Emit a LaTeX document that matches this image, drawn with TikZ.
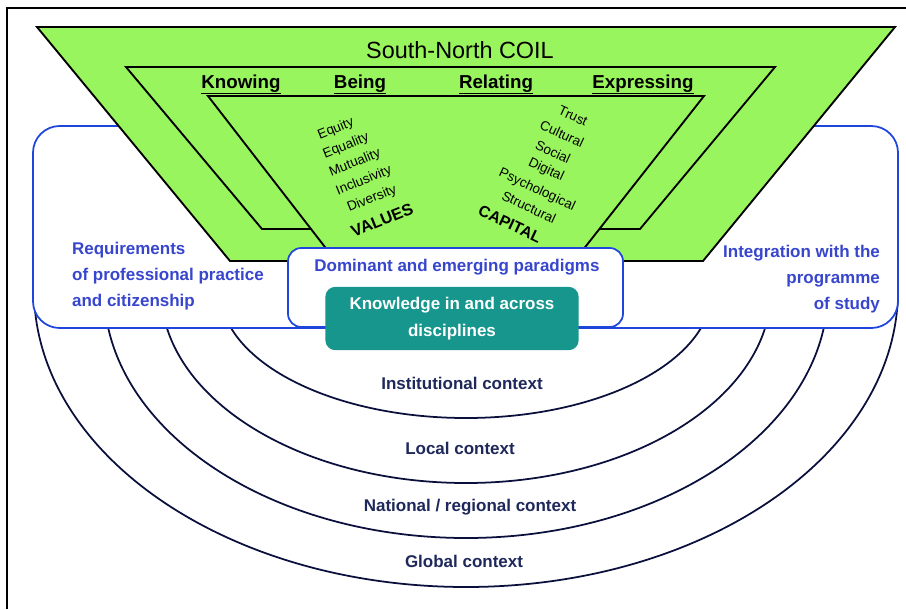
\documentclass[tikz,border=0pt]{standalone}
\usepackage{fontspec}
\setmainfont{Liberation Sans}
\definecolor{coilGreen}{RGB}{153,245,94}
\definecolor{frameBlue}{RGB}{30,70,220}
\definecolor{textBlue}{RGB}{55,70,205}
\definecolor{contextNavy}{RGB}{30,40,90}
\definecolor{arcNavy}{RGB}{10,15,60}
\definecolor{knowTeal}{RGB}{22,150,140}

\begin{document}
\begin{tikzpicture}[x=0.3mm,y=-0.3mm,%%
  trapStyle/.style={draw=black,line width=1.6pt,line join=miter},%%
  boxStyle/.style={draw=frameBlue,fill=white,line width=1.5pt},%%
  arcStyle/.style={draw=arcNavy,line width=1.5pt},%%
  sideLabel/.style={text=textBlue,font=\fontsize{14.5}{22}\selectfont\bfseries},%%
  contextLabel/.style={text=contextNavy,font=\fontsize{14.5}{17}\selectfont\bfseries},%%
  headLabel/.style={anchor=base,font=\fontsize{16}{19}\selectfont\bfseries},%%
  valueLabel/.style={inner sep=0pt,font=\fontsize{11.5}{13}\selectfont,rotate=22},%%
  capitalLabel/.style={inner sep=0pt,font=\fontsize{11.5}{13}\selectfont,rotate=-25},%%
  knowBox/.style={fill=knowTeal,rounded corners=3mm,text=white,align=center,%%
    minimum width=76mm,minimum height=19mm,%%
    font=\fontsize{14.5}{23}\selectfont\bfseries}%%
]
%%
\useasboundingbox (0,0) rectangle (906,609);
%%
\pgfmathsetmacro{\cx}{466}
\pgfmathsetmacro{\cy}{290}
%%
%% Page frame.
\draw[line width=1.2pt] (7,609) -- (7,8) -- (906,8);
%% Context arcs, innermost first.
\foreach \rx/\ry in {246/128,305/193,362/248,432/297}{
  \draw[arcStyle] (\cx-\rx,\cy) arc[start angle=180,end angle=0,x radius=\rx,y radius=\ry];
}
%% Outer blue box.
\draw[boxStyle,rounded corners=8mm] (33,126) rectangle (898,328);
%% The three green trapezoids.
\draw[trapStyle,fill=coilGreen] (37,27) -- (895,27) -- (703,261) -- (230,261) -- cycle;
\draw[trapStyle] (126,67) -- (775,67) -- (640,229) -- (262,229) -- cycle;
\draw[trapStyle,fill=coilGreen] (208,96) -- (704,96) -- (575,260) -- (335,260) -- cycle;
%% Paradigms box and knowledge box.
\draw[boxStyle,rounded corners=4mm] (288,248) rectangle (623,327);
\node[knowBox] (knowledge) at (452,318.5) {Knowledge in and across\\disciplines};
\node[text=textBlue,font=\fontsize{14.5}{17}\selectfont\bfseries] (paradigms) at (457,267) {Dominant and emerging paradigms};
%%
%% Headings.
\node[anchor=base,font=\fontsize{20}{24}\selectfont] (coil) at (460,58) {South-North COIL};
\node[headLabel] (knowing) at (241,88) {\underline{Knowing}};
\node[headLabel] (being) at (360,88) {\underline{Being}};
\node[headLabel] (relating) at (496,88) {\underline{Relating}};
\node[headLabel] (expressing) at (643,88) {\underline{Expressing}};
%%
%% Values column.
\node[valueLabel] (equity) at (336,129) {Equity};
\node[valueLabel] (equality) at (346,146) {Equality};
\node[valueLabel] (mutuality) at (355,163) {Mutuality};
\node[valueLabel] (inclusivity) at (364,181) {Inclusivity};
\node[valueLabel] (diversity) at (372,199) {Diversity};
\node[valueLabel,font=\fontsize{14}{16}\selectfont\bfseries] (values) at (382,220) {VALUES};
%% Capital column.
\node[capitalLabel] (trust) at (573,116) {Trust};
\node[capitalLabel] (cultural) at (562,134) {Cultural};
\node[capitalLabel] (social) at (553,152) {Social};
\node[capitalLabel] (digital) at (546,170) {Digital};
\node[capitalLabel] (psychological) at (537,190) {Psychological};
\node[capitalLabel] (structural) at (529,207) {Structural};
\node[capitalLabel,font=\fontsize{13.5}{16}\selectfont\bfseries] (capital) at (510,224) {CAPITAL};
%%
%% Side texts.
\node[sideLabel,align=left,anchor=west] (requirements) at (68,276) {Requirements\\of professional practice\\and citizenship};
\node[sideLabel,align=right,anchor=east] (integration) at (884,279) {Integration with the\\programme\\of study};
%%
%% Context labels.
\node[contextLabel] (institutional) at (462,383) {Institutional context};
\node[contextLabel] (local) at (460,448) {Local context};
\node[contextLabel] (national) at (470,507) {National / regional context};
\node[contextLabel] (global) at (464,561) {Global context};
\end{tikzpicture}
\end{document}
